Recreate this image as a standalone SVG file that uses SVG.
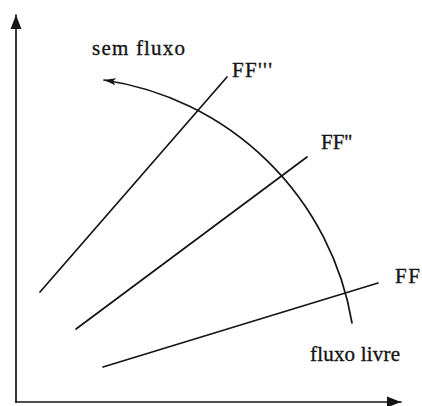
<svg xmlns="http://www.w3.org/2000/svg" width="422" height="406" viewBox="0 0 422 406">
<style>
.ln{stroke:#151515;stroke-width:1.7;fill:none;stroke-linecap:round}
.t{font-family:"Liberation Serif","DejaVu Serif",serif;font-size:21px;fill:#151515;stroke:#151515;stroke-width:0.35}
</style>
<defs>
<marker id="big" markerUnits="userSpaceOnUse" markerWidth="16" markerHeight="12" refX="14" refY="6" orient="auto">
<path d="M0,0.5 L14,6 L0,11.5 Z" fill="#151515"/>
</marker>
<marker id="small" markerUnits="userSpaceOnUse" markerWidth="14" markerHeight="10" refX="12" refY="5" orient="auto">
<path d="M0,1.5 L12,5 L0,8.5 L3,5 Z" fill="#151515"/>
</marker>
</defs>
<rect width="422" height="406" fill="#fff"/>
<g id="connectors">
<line id="y-axis" class="ln" x1="16" y1="402" x2="16" y2="15" marker-end="url(#big)"/>
<line id="x-axis" class="ln" x1="16" y1="402" x2="401" y2="402" marker-end="url(#big)"/>
<line id="ff3" class="ln" x1="40" y1="292" x2="227" y2="77"/>
<line id="ff2" class="ln" x1="76" y1="329" x2="307" y2="157"/>
<line id="ff1" class="ln" x1="103" y1="367" x2="378" y2="283"/>
<path id="curve" class="ln" d="M352,323 A295,295 0 0 0 104,80" marker-end="url(#small)"/>
</g>
<g id="label-sem-fluxo"><text class="t" x="92" y="55" textLength="93" lengthAdjust="spacing">sem fluxo</text></g>
<g id="label-ff3"><text class="t" x="232" y="77" textLength="40" lengthAdjust="spacing">FF'''</text></g>
<g id="label-ff2"><text class="t" x="321" y="149" textLength="31" lengthAdjust="spacing">FF''</text></g>
<g id="label-ff1"><text class="t" x="395" y="283" textLength="25" lengthAdjust="spacing">FF</text></g>
<g id="label-fluxo-livre"><text class="t" x="310" y="361" textLength="90" lengthAdjust="spacing">fluxo livre</text></g>
</svg>
